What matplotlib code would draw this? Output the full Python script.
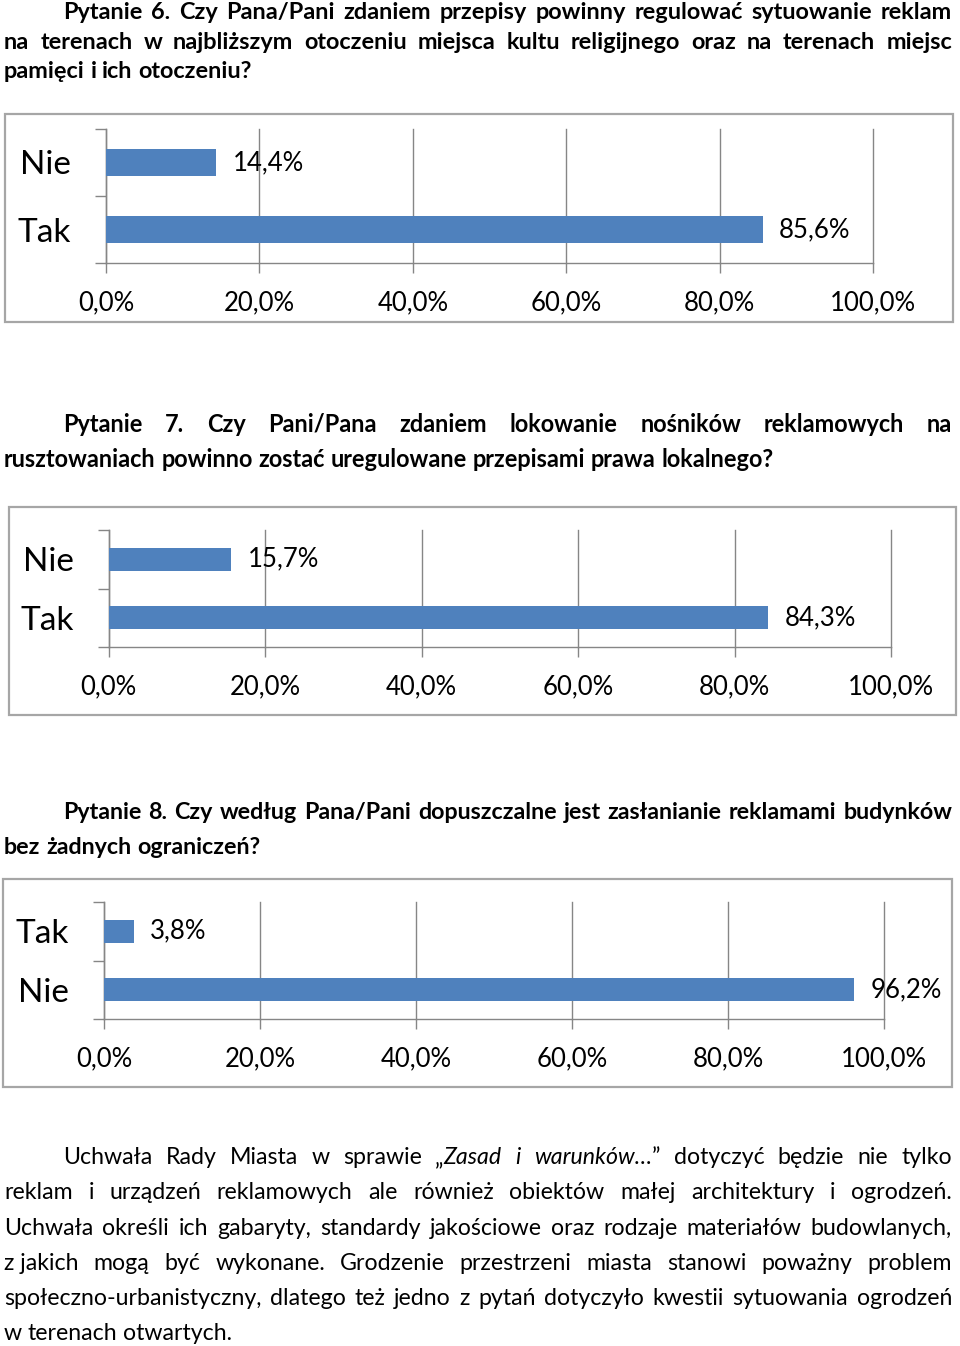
import matplotlib
matplotlib.use("Agg")
import matplotlib.pyplot as plt
from matplotlib.patches import Rectangle
from matplotlib.ticker import FuncFormatter

# ==========================================
# DATA
# ==========================================

q6_cats = ["Nie", "Tak"]
q6_vals = [14.4, 85.6]

q7_cats = ["Nie", "Tak"]
q7_vals = [15.7, 84.3]

q8_cats = ["Tak", "Nie"]
q8_vals = [3.8, 96.2]

x_ticks = [0, 20, 40, 60, 80, 100]

q6_text = [
    "Pytanie 6. Czy Pana/Pani zdaniem przepisy powinny regulować sytuowanie reklam",
    "na terenach w najbliższym otoczeniu miejsca kultu religijnego oraz na terenach miejsc",
    "pamięci i ich otoczeniu?",
]
q7_text = [
    "Pytanie 7. Czy Pani/Pana zdaniem lokowanie nośników reklamowych na",
    "rusztowaniach powinno zostać uregulowane przepisami prawa lokalnego?",
]
q8_text = [
    "Pytanie 8. Czy według Pana/Pani dopuszczalne jest zasłanianie reklamami budynków",
    "bez żadnych ograniczeń?",
]
body_text = [
    "Uchwała Rady Miasta w sprawie „_Zasad_ _i_ _warunków…_” dotyczyć będzie nie tylko",
    "reklam i urządzeń reklamowych ale również obiektów małej architektury i ogrodzeń.",
    "Uchwała określi ich gabaryty, standardy jakościowe oraz rodzaje materiałów budowlanych,",
    "z\u00a0jakich mogą być wykonane. Grodzenie przestrzeni miasta stanowi poważny problem",
    "społeczno-urbanistyczny, dlatego też jedno z pytań dotyczyło kwestii sytuowania ogrodzeń",
    "w terenach otwartych.",
]

# ==========================================
# SETUP
# ==========================================

W, H = 960, 1346
BLUE = "#4F81BD"
GREY = "#868686"

plt.rcParams["font.family"] = ["Lato", "DejaVu Sans"]

fig = plt.figure(figsize=(W / 100, H / 100), dpi=100)
renderer = fig.canvas.get_renderer()


def fx(x):
    return x / W


def fy(y):
    return 1 - y / H


def text_w(s, size, weight, style="normal"):
    t = fig.text(0, 0, s, fontsize=size, fontweight=weight, fontstyle=style)
    w = t.get_window_extent(renderer).width
    t.remove()
    return w


def parse_words(line):
    words = []
    for w in line.split(" "):
        parts = []
        italic = False
        for i, p in enumerate(w.split("_")):
            if i > 0:
                italic = not italic
            if p:
                parts.append((p, "italic" if italic else "normal"))
        words.append(parts)
    return words


def paragraph(lines, baselines, size_ref, weight, indent=59, left=4, right=952):
    # font size fitted on the last (unjustified) line
    ref = lines[-1].replace("_", "")
    size = 10 * size_ref / text_w(ref, 10, weight)
    space = text_w("a a", size, weight) - text_w("aa", size, weight)
    for k, (line, y) in enumerate(zip(lines, baselines)):
        words = parse_words(line)
        widths = [sum(text_w(p, size, weight, st) for p, st in w) for w in words]
        x0 = left + (indent if k == 0 else 0)
        if k < len(lines) - 1 and len(words) > 1:
            gap = (right - x0 - sum(widths)) / (len(words) - 1)
        else:
            gap = space
        x = x0
        for w, wd in zip(words, widths):
            xx = x
            for p, st in w:
                fig.text(fx(xx), fy(y), p, fontsize=size, fontweight=weight,
                         fontstyle=st, va="baseline", ha="left")
                xx += text_w(p, size, weight, st)
            x += wd + gap


def pct(v):
    return f"{v:.1f}%".replace(".", ",")


def bar_chart(cats, vals, box, plot):
    bx0, by0, bx1, by1 = box
    fig.patches.append(Rectangle((fx(bx0), fy(by1)), (bx1 - bx0) / W, (by1 - by0) / H,
                                 transform=fig.transFigure, fill=False,
                                 edgecolor="#A6A6A6", lw=1.6))
    px0, py0, px1, py1 = plot
    ax = fig.add_axes([fx(px0), fy(py1), (px1 - px0) / W, (py1 - py0) / H])
    ax.set_facecolor("none")
    n = len(cats)
    bars = ax.barh(range(n), vals, height=0.4, color=BLUE, zorder=3)
    ax.set_xlim(0, 100)
    ax.set_ylim(n - 0.5, -0.5)

    ax.set_xticks(x_ticks)
    ax.xaxis.set_major_formatter(FuncFormatter(lambda v, p: pct(v)))
    ax.tick_params(axis="x", length=7, width=1, color=GREY, labelsize=18.5, pad=12.5)
    ax.grid(axis="x", color=GREY, lw=1, zorder=0)
    for gl in ax.get_xgridlines():
        gl.set_clip_on(False)

    ax.set_yticks([i - 0.5 for i in range(n + 1)])
    ax.set_yticklabels([])
    ax.tick_params(axis="y", which="major", length=8, width=1, color=GREY)
    ax.set_yticks(range(n), minor=True)
    ax.set_yticklabels(cats, minor=True, fontsize=24)
    ax.tick_params(axis="y", which="minor", length=0, pad=25)

    for s in ["top", "right"]:
        ax.spines[s].set_visible(False)
    for s in ["left", "bottom"]:
        ax.spines[s].set_color(GREY)
        ax.spines[s].set_linewidth(1)

    ax.bar_label(bars, labels=[pct(v) for v in vals], padding=12, fontsize=18.5)
    return ax


# ==========================================
# PAGE
# ==========================================

paragraph(q6_text, [19, 49, 78], 248, "bold")
bar_chart(q6_cats, q6_vals, (5, 114, 953, 322), (106, 129, 873, 263))

paragraph(q7_text, [432, 467], 772, "bold")
bar_chart(q7_cats, q7_vals, (9, 507, 956, 715), (108.5, 530, 891, 647))

paragraph(q8_text, [819, 854], 256, "bold")
bar_chart(q8_cats, q8_vals, (3, 879, 952, 1087), (104, 902, 884, 1019))

paragraph(body_text, [1164, 1199, 1235, 1270, 1305, 1340], 229, "normal")

fig.savefig("out.png", dpi=100)
